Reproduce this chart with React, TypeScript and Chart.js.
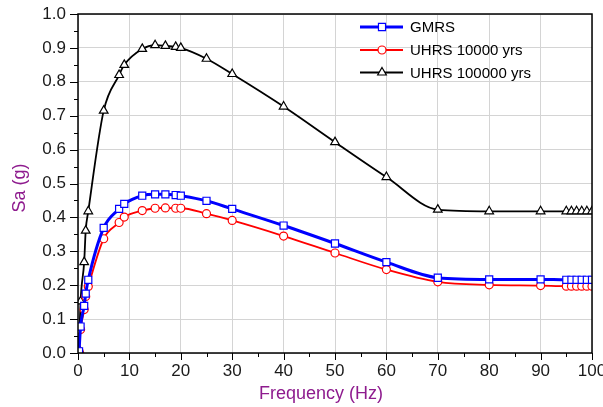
import React, { useEffect, useRef } from "react";
import { Chart, registerables } from "chart.js";
import { drawPoint } from "chart.js/helpers";

Chart.register(...registerables);

// Data (frequency in Hz, spectral acceleration in g)
const freq = [0.2, 0.5, 1.2, 1.5, 2, 5, 8, 9, 12.5, 15, 17, 19, 20, 25, 30, 40, 50, 60, 70, 80, 90, 95, 96, 97, 98, 99, 100];
const gmrs = [0.005, 0.078, 0.139, 0.175, 0.216, 0.369, 0.425, 0.44, 0.464, 0.468, 0.468, 0.466, 0.464, 0.449, 0.425, 0.376, 0.323, 0.268, 0.222, 0.217, 0.217, 0.216, 0.216, 0.216, 0.216, 0.216, 0.216];
const uhrs10k = [0.005, 0.069, 0.128, 0.167, 0.196, 0.337, 0.385, 0.401, 0.42, 0.427, 0.428, 0.427, 0.427, 0.411, 0.391, 0.345, 0.295, 0.246, 0.21, 0.201, 0.199, 0.197, 0.197, 0.197, 0.197, 0.197, 0.197];
const uhrs100k = [0.01, 0.152, 0.268, 0.361, 0.418, 0.715, 0.82, 0.85, 0.897, 0.908, 0.906, 0.903, 0.9, 0.868, 0.823, 0.727, 0.622, 0.519, 0.423, 0.418, 0.418, 0.418, 0.418, 0.418, 0.418, 0.418, 0.418];
const seriesNames = ["GMRS", "UHRS 10000 yrs", "UHRS 100000 yrs"];
const xTitle = "Frequency (Hz)";
const yTitle = "Sa (g)";

const FONT = "'Liberation Sans', Arial, sans-serif";
const TITLE_COLOR = "#8e1b8e";

const styles = [
  { color: "#0000ff", width: 3, point: "rect", radius: 5 },
  { color: "#ff0000", width: 1.8, point: "circle", radius: 4 },
  { color: "#000000", width: 1.8, point: "triangle", radius: 5 },
];

const decorPlugin = {
  id: "decor",
  afterDatasetsDraw(chart: any) {
    const { ctx, chartArea: ca } = chart;
    const xs = chart.scales.x;
    const ys = chart.scales.y;
    ctx.save();
    // frame
    ctx.strokeStyle = "#000";
    ctx.lineWidth = 1.5;
    ctx.strokeRect(ca.left, ca.top, ca.right - ca.left, ca.bottom - ca.top);
    // ticks
    ctx.lineWidth = 1;
    ctx.beginPath();
    for (let k = 0; k <= 20; k++) {
      const px = Math.round(xs.getPixelForValue(k * 5)) + 0.5;
      const len = k % 2 === 0 ? 7 : 4;
      ctx.moveTo(px, ca.bottom);
      ctx.lineTo(px, ca.bottom + len);
    }
    for (let k = 0; k <= 20; k++) {
      const py = Math.round(ys.getPixelForValue(k * 0.05)) + 0.5;
      const len = k % 2 === 0 ? 8 : 4;
      ctx.moveTo(ca.left, py);
      ctx.lineTo(ca.left - len, py);
    }
    ctx.stroke();
    // titles
    ctx.fillStyle = TITLE_COLOR;
    ctx.font = `18px ${FONT}`;
    ctx.textAlign = "center";
    ctx.textBaseline = "middle";
    ctx.fillText(xTitle, 321, 394);
    ctx.save();
    ctx.translate(20, 188);
    ctx.rotate(-Math.PI / 2);
    ctx.fillText(yTitle, 0, 0);
    ctx.restore();
    // legend
    const rows = [27, 50, 72.5];
    ctx.font = `15px ${FONT}`;
    ctx.textAlign = "left";
    seriesNames.forEach((name, i) => {
      const s = styles[i];
      const y = rows[i];
      ctx.strokeStyle = s.color;
      ctx.lineWidth = s.width;
      ctx.beginPath();
      ctx.moveTo(360, y);
      ctx.lineTo(403, y);
      ctx.stroke();
      ctx.fillStyle = "#fff";
      ctx.strokeStyle = s.color;
      ctx.lineWidth = 1.2;
      drawPoint(ctx, { pointStyle: s.point, radius: s.radius, borderWidth: 1.2, rotation: 0 }, 382, y);
      ctx.fillStyle = "#000";
      ctx.fillText(name, 410, y + 1);
    });
    ctx.restore();
  },
};

export default function App() {
  const ref = useRef<HTMLCanvasElement | null>(null);
  useEffect(() => {
    document.body.style.margin = "0";
    const all = [gmrs, uhrs10k, uhrs100k];
    const chart = new Chart(ref.current as HTMLCanvasElement, {
      type: "line",
      data: {
        datasets: all.map((vals, i) => ({
          label: seriesNames[i],
          data: freq.map((f, j) => ({ x: f, y: vals[j] })),
          borderColor: styles[i].color,
          borderWidth: styles[i].width,
          pointStyle: styles[i].point as any,
          pointRadius: styles[i].radius,
          pointBackgroundColor: "#ffffff",
          pointBorderColor: styles[i].color,
          pointBorderWidth: 1.2,
          cubicInterpolationMode: "monotone" as const,
          fill: false,
          clip: 0,
        })),
      },
      options: {
        responsive: false,
        animation: false,
        layout: { padding: { top: 14, right: 11, left: 0, bottom: 0 } },
        plugins: { legend: { display: false }, tooltip: { enabled: false } },
        scales: {
          x: {
            type: "linear",
            min: 0,
            max: 100,
            afterFit: (s: any) => { s.height = 54; s.paddingLeft = 0; s.paddingRight = 0; },
            ticks: { stepSize: 10, color: "#1a1a1a", font: { size: 17, family: FONT }, padding: 8, maxRotation: 0 },
            grid: { color: "#d4d4d4", lineWidth: 1, drawTicks: false },
            border: { display: false },
          },
          y: {
            type: "linear",
            min: 0,
            max: 1,
            afterFit: (s: any) => { s.width = 78; s.paddingTop = 0; s.paddingBottom = 0; },
            ticks: { stepSize: 0.1, color: "#1a1a1a", font: { size: 17, family: FONT }, padding: 12, callback: (v: any) => Number(v).toFixed(1) },
            grid: { color: "#d4d4d4", lineWidth: 1, drawTicks: false },
            border: { display: false },
          },
        },
      },
      plugins: [decorPlugin],
    });
    return () => chart.destroy();
  }, []);
  return (
    <div style={{ position: "fixed", left: 0, top: 0, width: 603, height: 407, background: "#fff" }}>
      <canvas ref={ref} width={603} height={407} />
    </div>
  );
}
